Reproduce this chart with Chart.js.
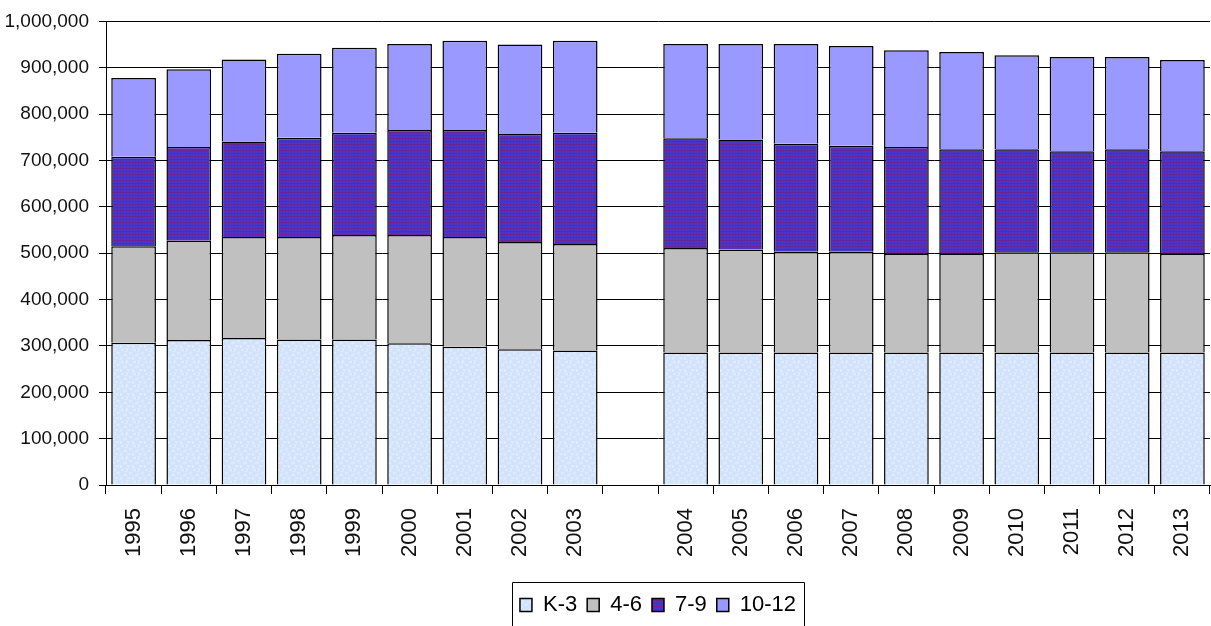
<!DOCTYPE html>
<html>
<head>
<meta charset="utf-8">
<script src="https://cdn.jsdelivr.net/npm/chart.js@4.4.1/dist/chart.umd.min.js"></script>
<style>
  html, body { margin: 0; padding: 0; background: #fff; }
  #wrap { width: 1211px; height: 626px; position: relative; overflow: hidden; }
</style>
</head>
<body>
<div id="wrap"><canvas id="chart" width="1211" height="626"></canvas></div>
<script>
// Enrollment by grade band, school years 1995-2013 (blank slot separates 2003 and 2004)
const categories = ['1995','1996','1997','1998','1999','2000','2001','2002','2003','',
                    '2004','2005','2006','2007','2008','2009','2010','2011','2012','2013'];

const gradesK3   = [307000,313000,317000,314000,314000,306000,298000,293000,290000,null,
                    286000,286000,286000,286000,286000,286000,286000,286000,286000,286000];
const grades4to6 = [208000,214000,218000,221000,225000,233000,237000,231000,230000,null,
                    225000,222000,217000,217000,213000,213000,216000,216000,216000,213000];
const grades7to9 = [193000,202000,206000,214000,221000,227000,231000,233000,240000,null,
                    237000,237000,233000,229000,230000,225000,222000,218000,222000,221000];
const grades10to12 = [170000,168000,177000,181000,183000,185000,192000,193000,198000,null,
                    203000,206000,215000,215000,209000,210000,203000,203000,199000,197000];

const seriesNames = ['K-3', '4-6', '7-9', '10-12'];
const yTickValues = [0,100000,200000,300000,400000,500000,600000,700000,800000,900000,1000000];

// Fill textures
function makePattern(size, draw) {
  const c = document.createElement('canvas');
  c.width = size; c.height = size;
  const g = c.getContext('2d');
  draw(g);
  return g.createPattern(c, 'repeat');
}
const ctx = document.getElementById('chart').getContext('2d');

// soft mottled light blue
const k3Fill = makePattern(12, g => {
  g.fillStyle = '#d3e4fa'; g.fillRect(0, 0, 12, 12);
  g.fillStyle = '#dde9fc';
  [[1,1,3,2],[6,0,2,3],[9,4,3,2],[3,6,4,2],[0,9,2,3],[7,9,3,2],[5,3,2,1]].forEach(r => g.fillRect(r[0], r[1], r[2], r[3]));
  g.fillStyle = '#cbdff8';
  [[4,1,1,2],[10,1,1,1],[1,5,2,1],[8,7,1,2],[4,10,2,1]].forEach(r => g.fillRect(r[0], r[1], r[2], r[3]));
});
// blue with purple grid weave
const g79Fill = makePattern(3, g => {
  g.fillStyle = '#3f3ad2'; g.fillRect(0, 0, 3, 3);
  g.fillStyle = '#6a2498';
  g.fillRect(0, 0, 3, 1);
  g.fillStyle = '#5a2cb0';
  g.fillRect(0, 1, 1, 2);
});

const fillColors = [k3Fill, '#c0c0c0', g79Fill, '#9999ff'];
const seriesData = [gradesK3, grades4to6, grades7to9, grades10to12];

const sans = "'Liberation Sans', Arial, sans-serif";

// frame drawn around the legend entries
const legendFrame = {
  id: 'legendFrame',
  afterDraw(chart) {
    const boxes = chart.legend && chart.legend.legendHitBoxes;
    if (!boxes || !boxes.length) return;
    let l = Infinity, r = -Infinity, t = Infinity;
    boxes.forEach(b => { l = Math.min(l, b.left); r = Math.max(r, b.left + b.width); t = Math.min(t, b.top); });
    const c = chart.ctx;
    c.save();
    c.strokeStyle = '#000';
    c.lineWidth = 1;
    c.beginPath();
    c.rect(Math.round(l - 8) + 0.5, Math.round(t - 12) + 0.5, Math.round(r - l + 16), 80);
    c.stroke();
    c.restore();
  }
};

new Chart(ctx, {
  type: 'bar',
  data: {
    labels: categories,
    datasets: seriesNames.map((name, i) => ({
      label: name,
      data: seriesData[i],
      backgroundColor: fillColors[i],
      borderColor: '#000',
      borderWidth: 1.5,
      categoryPercentage: 1.0,
      barPercentage: 0.81
    }))
  },
  options: {
    responsive: false,
    animation: false,
    layout: { padding: { top: 8, right: 1, left: 4, bottom: 0 } },
    plugins: {
      title: { display: false },
      tooltip: { enabled: false },
      legend: {
        position: 'bottom',
        fullSize: false,
        labels: {
          boxWidth: 12,
          boxHeight: 13,
          padding: 10,
          color: '#000',
          font: { family: sans, size: 22 }
        }
      }
    },
    scales: {
      x: {
        stacked: true,
        afterFit(axis) { axis.height = 99; axis.paddingLeft = 0; axis.paddingRight = 0; },
        grid: { offset: true, drawOnChartArea: false, drawTicks: true, tickLength: 9, color: '#000' },
        border: { color: '#000', width: 1 },
        ticks: {
          autoSkip: false, minRotation: 90, maxRotation: 90, padding: 14,
          color: '#111', font: { family: sans, size: 22 }
        }
      },
      y: {
        stacked: true,
        min: 0, max: 1000000,
        afterFit(axis) { axis.width = 102; },
        afterBuildTicks(axis) { axis.ticks = yTickValues.map(v => ({ value: v })); },
        grid: { color: '#000', lineWidth: 1, tickLength: 7 },
        border: { color: '#000', width: 1 },
        ticks: {
          padding: 10, color: '#111',
          font: { family: sans, size: 19 },
          callback: v => Number(v).toLocaleString('en-US')
        }
      }
    }
  },
  plugins: [legendFrame]
});
</script>
</body>
</html>
